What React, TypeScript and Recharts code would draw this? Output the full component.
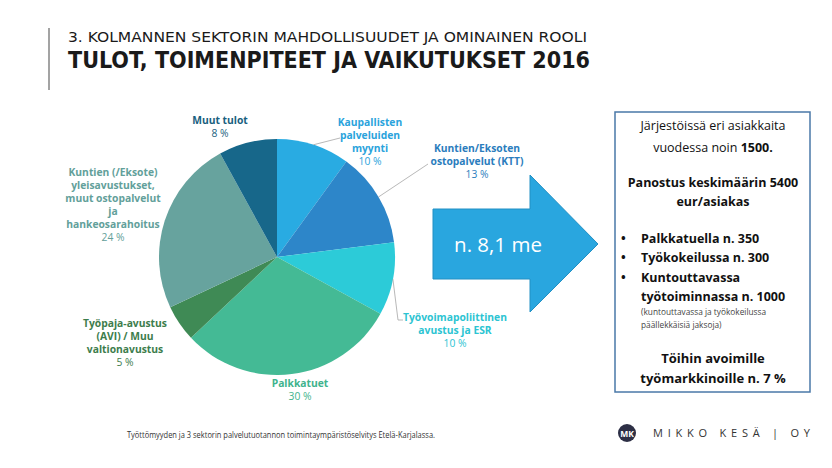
import { PieChart, Pie, Cell } from 'recharts';

const categories = [
  'Kaupallisten palveluiden myynti',
  'Kuntien/Eksoten ostopalvelut (KTT)',
  'Työvoimapoliittinen avustus ja ESR',
  'Palkkatuet',
  'Työpaja-avustus (AVI) / Muu valtionavustus',
  'Kuntien (/Eksote) yleisavustukset, muut ostopalvelut ja hankeosarahoitus',
  'Muut tulot',
];
const shares = [10, 13, 10, 30, 5, 24, 8];
const labelRows = [
  ['Kaupallisten', 'palveluiden', 'myynti'],
  ['Kuntien/Eksoten', 'ostopalvelut (KTT)'],
  ['Työvoimapoliittinen', 'avustus ja ESR'],
  ['Palkkatuet'],
  ['Työpaja-avustus', '(AVI) /  Muu', 'valtionavustus'],
  ['Kuntien (/Eksote)', 'yleisavustukset,', 'muut ostopalvelut', 'ja', 'hankeosarahoitus'],
  ['Muut tulot'],
];
const sliceColors = ['#29abe2', '#2d86c9', '#2ccbd8', '#44ba95', '#3f8a55', '#67a39e', '#17678a'];
const labelColors = ['#2aa3dc', '#2b7dbd', '#2cc4d2', '#3fb38d', '#3d7d4c', '#62a09a', '#1a5f80'];

const data = categories.map((name, i) => ({ name, value: shares[i] }));

// label anchor (first baseline) relative to the pie centre
const labelOffsets = [
  { dx: 93, dy: -131 },
  { dx: 200, dy: -105 },
  { dx: 178, dy: 64 },
  { dx: 23, dy: 130 },
  { dx: -152, dy: 70 },
  { dx: -164, dy: -81 },
  { dx: -57, dy: -133 },
];
// leader line bend points relative to the pie centre
const leaderBends: (number[][] | null)[] = [
  [[63, -119]],
  [[151, -93]],
  [[121, 63], [126, 63]],
  null,
  null,
  null,
  null,
];

const RADIAN = Math.PI / 180;
const labelFont = '"Open Sans", Lato, sans-serif';
const boxFont = '"Open Sans", Lato, sans-serif';
const titleFont = '"DejaVu Sans Condensed", "DejaVu Sans", sans-serif';

const renderLabel = (props: any) => {
  const { cx, cy, midAngle, outerRadius, index } = props;
  const off = labelOffsets[index];
  const rows = labelRows[index];
  const bends = leaderBends[index];
  const x = cx + off.dx;
  let line = null;
  if (bends) {
    const sx = cx + outerRadius * Math.cos(-midAngle * RADIAN);
    const sy = cy + outerRadius * Math.sin(-midAngle * RADIAN);
    const pts = [[sx, sy], ...bends.map(([bx, by]) => [cx + bx, cy + by])];
    line = (
      <polyline
        points={pts.map((p) => p.join(',')).join(' ')}
        fill="none"
        stroke="#a6a6a6"
        strokeWidth={0.8}
      />
    );
  }
  return (
    <g key={`lbl-${index}`}>
      {line}
      <text x={x} y={cy + off.dy} textAnchor="middle" fill={labelColors[index]} fontFamily={labelFont} fontSize={10.3}>
        {rows.map((r, i) => (
          <tspan key={i} x={x} dy={i === 0 ? 0 : 13} fontWeight="bold">
            {r}
          </tspan>
        ))}
        <tspan x={x} dy={13}>{`${shares[index]} %`}</tspan>
      </text>
    </g>
  );
};

export default function App() {
  return (
    <div style={{ position: 'absolute', left: 0, top: 0, width: 832, height: 468, background: '#fff', overflow: 'hidden' }}>
      <svg width={832} height={468} style={{ position: 'absolute', left: 0, top: 0 }}>
        <line x1={49} y1={28} x2={49} y2={90} stroke="#666" strokeWidth={1.2} />
        <text
          x={68}
          y={42}
          textLength={519}
          lengthAdjust="spacingAndGlyphs"
          fontFamily={titleFont}
          fontStretch="condensed"
          fontSize={14.5}
          fill="#1a1a1a"
        >
          3. KOLMANNEN SEKTORIN MAHDOLLISUUDET JA OMINAINEN ROOLI
        </text>
        <text
          x={68}
          y={68}
          textLength={522}
          lengthAdjust="spacingAndGlyphs"
          fontFamily={titleFont}
          fontStretch="condensed"
          fontWeight="bold"
          fontSize={23}
          fill="#1a1a1a"
        >
          TULOT, TOIMENPITEET JA VAIKUTUKSET 2016
        </text>

        {/* arrow */}
        <polygon
          points="433,209 530,209 530,175 598,244 530,312 530,279 433,279"
          fill="#29a6df"
          stroke="#2290c4"
          strokeWidth={1}
        />
        <text x={498} y={252} textAnchor="middle" fill="#fff" fontFamily={boxFont} fontSize={20.5}>
          n. 8,1 me
        </text>

        {/* info box */}
        <rect x={615} y={112} width={195} height={280} fill="#fff" stroke="#4a78a8" strokeWidth={1.5} />
        <g fontFamily={boxFont} fill="#111" fontSize={12.5} textAnchor="middle">
          <text x={713} y={130}>Järjestöissä eri asiakkaita</text>
          <text x={713} y={152}>
            vuodessa noin <tspan fontWeight="bold">1500.</tspan>
          </text>
          <text x={713} y={187} fontWeight="bold">Panostus keskimäärin 5400</text>
          <text x={713} y={206} fontWeight="bold">eur/asiakas</text>
          <text x={713} y={363} fontWeight="bold" fontSize={13}>Töihin avoimille</text>
          <text x={713} y={383} fontWeight="bold" fontSize={13}>työmarkkinoille n. 7 %</text>
        </g>
        <g fontFamily={boxFont} fill="#111" fontSize={12.5} fontWeight="bold">
          <text x={621} y={243}>•</text>
          <text x={641} y={243}>Palkkatuella n. 350</text>
          <text x={621} y={262}>•</text>
          <text x={641} y={262}>Työkokeilussa n. 300</text>
          <text x={621} y={282}>•</text>
          <text x={641} y={282}>Kuntouttavassa</text>
          <text x={641} y={301}>työtoiminnassa n. 1000</text>
        </g>
        <g fontFamily={boxFont} fill="#444" fontSize={8.3}>
          <text x={641} y={315}>(kuntouttavassa ja työkokeilussa</text>
          <text x={641} y={328}>päällekkäisiä jaksoja)</text>
        </g>

        {/* footer */}
        <text
          x={127}
          y={438}
          textLength={308}
          lengthAdjust="spacingAndGlyphs"
          fontFamily={boxFont}
          fontSize={9.5}
          fill="#333"
        >
          Työttömyyden ja 3 sektorin palvelutuotannon toimintaympäristöselvitys Etelä-Karjalassa.
        </text>
        <circle cx={627} cy={433} r={9} fill="#2d2f45" />
        <text x={627} y={436.5} textAnchor="middle" fontFamily={boxFont} fontSize={8.5} fontWeight="bold" fill="#fff">
          MK
        </text>
        <text x={653} y={437} textLength={157} lengthAdjust="spacing" fontFamily={boxFont} fontSize={11} fill="#333">
          MIKKO KESÄ | OY
        </text>
      </svg>

      <div style={{ position: 'absolute', left: 0, top: 0 }}>
        <PieChart width={832} height={468}>
          <Pie
            data={data}
            dataKey="value"
            nameKey="name"
            cx={272}
            cy={252}
            outerRadius={118}
            startAngle={90}
            endAngle={-270}
            stroke="none"
            label={renderLabel}
            labelLine={false}
            isAnimationActive={false}
          >
            {data.map((d, i) => (
              <Cell key={d.name} fill={sliceColors[i]} />
            ))}
          </Pie>
        </PieChart>
      </div>
    </div>
  );
}
